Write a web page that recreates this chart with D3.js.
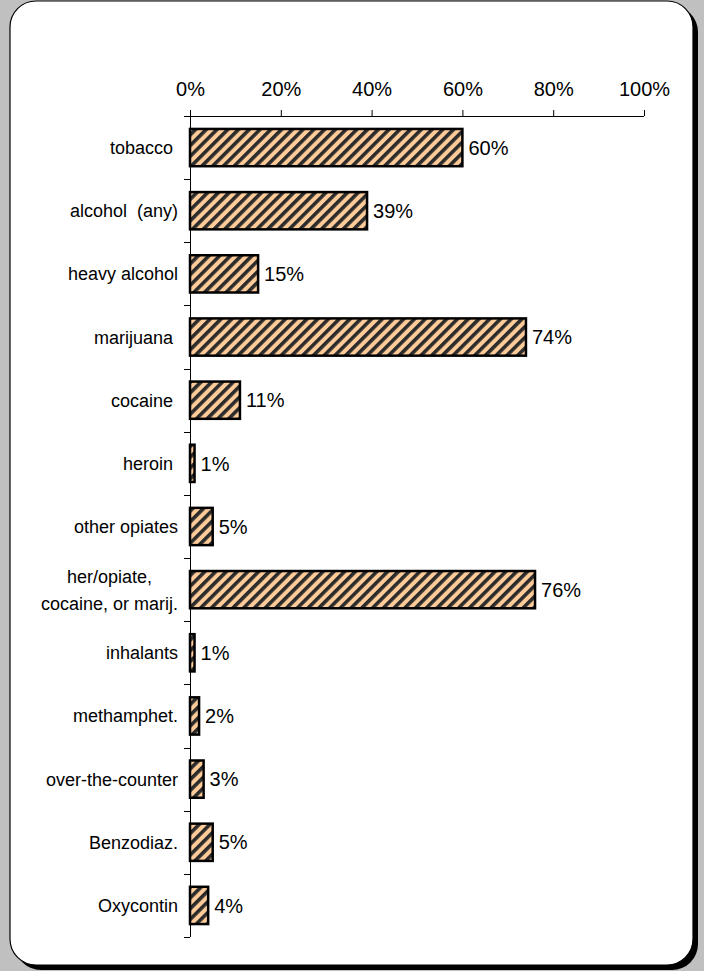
<!DOCTYPE html>
<html>
<head>
<meta charset="utf-8">
<script src="https://cdn.jsdelivr.net/npm/d3@7"></script>
<style>
html,body{margin:0;padding:0;background:#c0c0c0;}
svg{display:block;}
text{font-family:"Liberation Sans",Arial,sans-serif;fill:#000;white-space:pre;}
</style>
</head>
<body>
<svg id="chart" width="704" height="971"></svg>
<script>
const categories = ["tobacco ", "alcohol  (any)", "heavy alcohol", "marijuana ", "cocaine ", "heroin ", "other opiates", "her/opiate,\ncocaine, or marij.", "inhalants", "methamphet.", "over-the-counter", "Benzodiaz.", "Oxycontin"];
const values = [60, 39, 15, 74, 11, 1, 5, 76, 1, 2, 3, 5, 4];
const tickValues = [0, 20, 40, 60, 80, 100];

const svg = d3.select("#chart");

// frame with shadow
svg.append("rect").attr("x", 15).attr("y", 6).attr("width", 683).attr("height", 964)
  .attr("rx", 26).attr("fill", "#000");
svg.append("rect").attr("x", 10).attr("y", 1).attr("width", 683).attr("height", 964)
  .attr("rx", 26).attr("fill", "#fff").attr("stroke", "#000").attr("stroke-width", 1.2);

// hatch pattern
const defs = svg.append("defs");
const pat = defs.append("pattern").attr("id", "hatch")
  .attr("patternUnits", "userSpaceOnUse")
  .attr("width", 7.6).attr("height", 7.6)
  .attr("patternTransform", "rotate(45)");
pat.append("rect").attr("width", 7.6).attr("height", 7.6).attr("fill", "#ffcc99");
pat.append("rect").attr("x", 0).attr("width", 3.6).attr("height", 7.6).attr("fill", "#2b2b2b");

const x = d3.scaleLinear().domain([0, 100]).range([190, 644]);
const y = d3.scaleBand().domain(categories).range([116, 937]).paddingInner(0.41).paddingOuter(0.205);

// top axis
const xAxis = d3.axisTop(x).tickValues(tickValues).tickFormat(d => d + "%").tickSize(6).tickPadding(14);
const gx = svg.append("g").attr("transform", "translate(0,116)").call(xAxis);
gx.select(".domain").attr("d", "M184,0.5H644").attr("stroke", "#000").attr("stroke-width", 1);
gx.selectAll(".tick line").attr("stroke", "#000");
gx.selectAll(".tick text").attr("font-size", 20).attr("font-family", "Liberation Sans, Arial, sans-serif").attr("fill", "#000");

// left axis line & band-boundary ticks
const boundaries = d3.range(categories.length + 1).map(i => 116 + i * (937 - 116) / categories.length);
svg.append("line").attr("x1", 190.5).attr("x2", 190.5).attr("y1", 116).attr("y2", 937).attr("stroke", "#000");
svg.selectAll(".ytick").data(boundaries.slice(1)).enter().append("line")
  .attr("x1", 184).attr("x2", 190).attr("y1", d => Math.round(d) + 0.5).attr("y2", d => Math.round(d) + 0.5)
  .attr("stroke", "#000");

// bars
svg.selectAll(".bar").data(values).enter().append("rect")
  .attr("x", x(0))
  .attr("y", (d, i) => y(categories[i]))
  .attr("width", d => x(d) - x(0))
  .attr("height", y.bandwidth())
  .attr("fill", "url(#hatch)")
  .attr("stroke", "#000").attr("stroke-width", 2.5);

// value labels
svg.selectAll(".val").data(values).enter().append("text")
  .attr("x", d => x(d) + 6)
  .attr("y", (d, i) => y(categories[i]) + y.bandwidth() / 2)
  .attr("dy", "0.36em")
  .attr("font-size", 20)
  .text(d => d + "%");

// category labels
categories.forEach((c, i) => {
  const cy = y(c) + y.bandwidth() / 2;
  const lines = c.split("\n");
  if (lines.length === 1) {
    svg.append("text").attr("x", 178).attr("y", cy).attr("dy", "0.36em")
      .attr("text-anchor", "end").attr("font-size", 18).text(c);
  } else {
    const t2 = svg.append("text").attr("x", 178).attr("y", cy + 13.5).attr("dy", "0.36em")
      .attr("text-anchor", "end").attr("font-size", 18).text(lines[1]);
    const w = t2.node().getComputedTextLength();
    svg.append("text").attr("x", 178 - w / 2).attr("y", cy - 13.5).attr("dy", "0.36em")
      .attr("text-anchor", "middle").attr("font-size", 18).text(lines[0]);
  }
});
</script>
</body>
</html>
